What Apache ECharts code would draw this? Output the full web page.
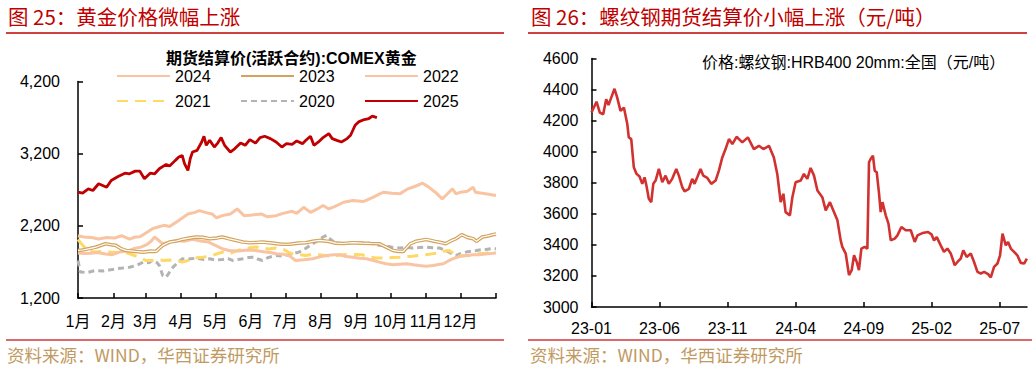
<!DOCTYPE html>
<html><head><meta charset="utf-8">
<script src="https://cdn.jsdelivr.net/npm/echarts@6/dist/echarts.min.js"></script>
<style>html,body{margin:0;padding:0;background:#fff;}#c{width:1032px;height:368px;}</style>
</head><body><div id="c"></div>
<script>
// ---------- data: left chart (COMEX gold, by day of year) ----------
const monthLabels = ['1月','2月','3月','4月','5月','6月','7月','8月','9月','10月','11月','12月'];
const monthDays = [31,28,31,30,31,30,31,31,30,31,30,31];

const gold2020 = [[0,1720],[2,1560],[8,1552],[15,1581],[22,1575],[28,1590],[33,1604],[39,1615],[45,1627],[51,1650],[57,1697],[62,1690],[65,1720],[69,1690],[71,1650],[74,1511],[77,1488],[80,1560],[83,1627],[86,1674],[91,1743],[97,1740],[103,1752],[109,1735],[115,1743],[120,1725],[126,1734],[131,1745],[135,1720],[140,1735],[144,1743],[149,1760],[153,1766],[157,1740],[161,1720],[166,1760],[173,1790],[178,1780],[184,1799],[189,1820],[193,1836],[199,1890],[205,1952],[210,2000],[214,2045],[217,2068],[220,2020],[223,1984],[228,1960],[234,1952],[240,1970],[246,1966],[252,1960],[258,1952],[263,1930],[269,1920],[275,1900],[281,1892],[287,1900],[292,1892],[298,1900],[304,1906],[310,1895],[316,1892],[320,1865],[324,1836],[327,1810],[330,1790],[334,1815],[339,1836],[344,1850],[348,1859],[352,1870],[356,1873],[361,1885],[365,1882]];

const gold2021 = [[0,2010],[3,1952],[6,1900],[8,1850],[15,1836],[22,1845],[28,1836],[35,1830],[40,1836],[45,1813],[50,1785],[54,1766],[59,1720],[65,1720],[70,1730],[75,1720],[80,1725],[86,1720],[91,1697],[96,1720],[100,1743],[105,1760],[109,1766],[115,1780],[121,1810],[126,1836],[132,1813],[138,1850],[144,1882],[150,1895],[155,1906],[160,1900],[166,1880],[173,1892],[180,1870],[183,1840],[187,1813],[193,1800],[199,1790],[205,1805],[211,1799],[216,1790],[219,1780],[226,1790],[232,1799],[240,1805],[248,1799],[254,1770],[260,1753],[265,1755],[269,1753],[275,1760],[281,1766],[287,1775],[292,1780],[298,1790],[304,1799],[310,1815],[315,1827],[320,1850],[324,1859],[328,1820],[333,1790],[338,1785],[342,1790],[347,1800],[350,1813],[356,1820],[362,1836],[365,1830]];

const gold2022 = [[0,1825],[5,1815],[11,1820],[17,1830],[24,1810],[30,1800],[36,1836],[43,1850],[49,1885],[55,1905],[60,1940],[64,1990],[67,2045],[71,1990],[74,1952],[80,1975],[86,1998],[93,1985],[100,2012],[107,1990],[114,1975],[120,1930],[126,1882],[132,1859],[140,1850],[148,1865],[155,1859],[162,1840],[168,1830],[173,1813],[180,1805],[185,1780],[190,1720],[197,1730],[205,1743],[211,1770],[217,1790],[223,1800],[229,1799],[234,1775],[240,1766],[246,1750],[252,1743],[258,1720],[263,1697],[269,1675],[275,1660],[281,1668],[287,1674],[293,1660],[298,1650],[304,1640],[310,1650],[315,1665],[319,1674],[323,1710],[327,1743],[333,1775],[339,1790],[345,1800],[350,1799],[356,1810],[360,1815],[365,1825]];

const gold2023 = [[0,1859],[4,1865],[10,1885],[16,1906],[24,1952],[29,1938],[33,1929],[38,1880],[42,1859],[50,1845],[57,1836],[64,1850],[68,1845],[74,1929],[80,1975],[86,1990],[91,2012],[97,2030],[103,2045],[109,2040],[115,2022],[121,2030],[126,2045],[132,2020],[138,1998],[144,1975],[150,1966],[156,1970],[161,1975],[170,1960],[178,1945],[185,1945],[192,1960],[199,1966],[205,1985],[211,1998],[219,1984],[225,1960],[232,1955],[240,1966],[248,1960],[256,1955],[263,1952],[269,1906],[275,1859],[280,1845],[284,1845],[290,1950],[295,1985],[304,2012],[312,1984],[318,1965],[321,1952],[326,1995],[330,2022],[335,2077],[340,2040],[345,2022],[348,1985],[353,2045],[358,2060],[362,2077],[365,2085]];

const gold2024 = [[0,2063],[5,2045],[12,2039],[18,2017],[25,2039],[32,2030],[38,2063],[45,2017],[50,2045],[54,2049],[60,2109],[65,2161],[70,2184],[75,2207],[80,2190],[86,2254],[92,2318],[96,2365],[102,2387],[106,2411],[111,2387],[117,2365],[121,2309],[126,2341],[133,2365],[139,2434],[145,2341],[152,2350],[160,2365],[165,2327],[173,2341],[179,2373],[187,2401],[191,2373],[197,2457],[203,2387],[209,2434],[214,2481],[219,2434],[224,2467],[232,2527],[240,2550],[249,2536],[258,2597],[263,2640],[267,2666],[274,2652],[281,2643],[288,2713],[294,2745],[301,2791],[306,2740],[312,2666],[318,2574],[322,2634],[327,2713],[330,2643],[334,2666],[340,2680],[345,2735],[347,2666],[353,2652],[360,2634],[365,2620]];

const gold2025 = [[0,2666],[4,2652],[9,2713],[13,2690],[18,2783],[25,2735],[29,2829],[35,2884],[41,2930],[45,2921],[50,2958],[54,2958],[58,2852],[63,2930],[67,2921],[71,2991],[77,3051],[80,3028],[85,3107],[88,3153],[91,3176],[93,3061],[96,2968],[98,3130],[100,3223],[104,3246],[108,3362],[110,3441],[112,3316],[115,3385],[119,3292],[122,3347],[125,3423],[128,3316],[133,3223],[137,3270],[142,3348],[146,3316],[150,3395],[155,3347],[159,3423],[163,3441],[168,3409],[173,3362],[178,3292],[182,3339],[187,3330],[191,3376],[196,3339],[199,3385],[203,3441],[206,3316],[210,3362],[214,3423],[219,3478],[222,3409],[226,3385],[230,3362],[235,3409],[238,3455],[242,3594],[245,3640],[250,3673],[254,3687],[257,3720],[261,3700]];

// ---------- data: right chart (rebar price, months since 2023-01) ----------
const steelTickMonths = [0,5,10,15,20,25,30];
const steelTickLabels = ['23-01','23-06','23-11','24-04','24-09','25-02','25-07'];
const steelPrices = [[0,4252],[0.37,4322],[0.61,4252],[0.86,4241],[1.08,4338],[1.25,4300],[1.45,4348],[1.69,4405],[1.89,4348],[2.13,4263],[2.38,4284],[2.63,4178],[2.74,4092],[2.92,4081],[3.11,3899],[3.31,3857],[3.53,3840],[3.73,3793],[3.90,3835],[4.04,3780],[4.21,3697],[4.39,3675],[4.54,3793],[4.71,3814],[4.95,3889],[5.20,3803],[5.44,3846],[5.68,3793],[5.93,3825],[6.23,3889],[6.42,3846],[6.67,3771],[6.84,3745],[7.15,3760],[7.40,3825],[7.57,3793],[7.77,3835],[8.01,3889],[8.21,3846],[8.51,3831],[8.80,3793],[9.12,3814],[9.36,3878],[9.61,3963],[9.85,4017],[10.10,4081],[10.35,4049],[10.66,4096],[11.08,4060],[11.49,4092],[11.93,4017],[12.30,4038],[12.63,4017],[13.04,4038],[13.40,3963],[13.65,3857],[13.90,3675],[14.10,3729],[14.26,3611],[14.58,3590],[14.76,3707],[15.00,3803],[15.37,3814],[15.61,3857],[15.86,3825],[16.10,3895],[16.35,3846],[16.60,3750],[16.96,3707],[17.21,3622],[17.52,3675],[17.77,3622],[18.07,3558],[18.31,3429],[18.43,3387],[18.68,3344],[18.92,3205],[19.12,3237],[19.29,3333],[19.49,3290],[19.65,3237],[19.83,3376],[20.07,3387],[20.27,3376],[20.39,3932],[20.51,3953],[20.68,3974],[20.81,3878],[20.96,3867],[21.13,3729],[21.25,3611],[21.38,3675],[21.62,3590],[21.82,3537],[21.99,3429],[22.28,3440],[22.48,3461],[22.77,3515],[23.09,3494],[23.46,3494],[23.75,3419],[23.95,3461],[24.32,3476],[24.73,3483],[24.98,3468],[25.17,3429],[25.37,3450],[25.66,3397],[25.90,3355],[26.15,3376],[26.40,3344],[26.69,3269],[26.89,3290],[27.13,3312],[27.32,3365],[27.57,3322],[27.87,3344],[28.11,3290],[28.36,3226],[28.60,3216],[28.85,3226],[29.14,3212],[29.34,3190],[29.58,3258],[29.83,3280],[30.02,3333],[30.20,3472],[30.44,3397],[30.61,3419],[30.81,3376],[31.05,3355],[31.29,3333],[31.54,3284],[31.79,3280],[31.99,3312]];

// ---------- chart ----------
const monthStarts = [];
let acc = 0;
for (const d of monthDays) { monthStarts.push(acc); acc += d; }
const yearLen = acc;

const LAT = "'Liberation Sans', Arial, 'Noto Sans CJK SC', sans-serif";
const CJK = "'Noto Sans CJK SC', sans-serif";
const axisLine = { show: true, lineStyle: { color: '#000', width: 1.5 } };
const axisTick = { show: true, inside: true, length: 5, lineStyle: { color: '#000', width: 1.5 } };
const lbl = { color: '#000', fontSize: 16, fontFamily: LAT };

const chart = echarts.init(document.getElementById('c'), null, { renderer: 'svg', width: 1032, height: 368 });

const goldLine = (name, data, color, width, type, z) => ({
  name, type: 'line', data, xAxisIndex: 0, yAxisIndex: 0, symbol: 'none', silent: true, z,
  lineStyle: { color, width, type }, itemStyle: { color }
});

const legendBase = {
  left: 116, orient: 'horizontal', itemWidth: 53, itemHeight: 16, itemGap: 29.4, padding: 0,
  selectedMode: false, itemStyle: { opacity: 0, borderWidth: 0 },
  textStyle: { color: '#000', fontSize: 16, fontFamily: LAT, lineHeight: 16 }
};

chart.setOption({
  animation: false,
  title: [
    { text: '图 25：黄金价格微幅上涨', left: 8, top: 5, padding: 0,
      textStyle: { color: '#C00000', fontSize: 20.5, fontWeight: 'normal', fontFamily: CJK, lineHeight: 22 } },
    { text: '图 26：螺纹钢期货结算价小幅上涨（元/吨）', left: 531, top: 5, padding: 0,
      textStyle: { color: '#C00000', fontSize: 20.5, fontWeight: 'normal', fontFamily: CJK, lineHeight: 22 } },
    { text: '期货结算价(活跃合约):COMEX黄金', left: 166, top: 50, padding: 0,
      textStyle: { color: '#000', fontSize: 16, fontWeight: 'bold', fontFamily: LAT, lineHeight: 16 } },
    { text: '价格:螺纹钢:HRB400 20mm:全国（元/吨）', left: 702, top: 54, padding: 0,
      textStyle: { color: '#000', fontSize: 16, fontWeight: 'normal', fontFamily: LAT, lineHeight: 16 } },
    { text: '资料来源：WIND，华西证券研究所', left: 7, top: 345, padding: 0,
      textStyle: { color: '#BF9A62', fontSize: 17.5, fontWeight: 'normal', fontFamily: CJK, lineHeight: 18 } },
    { text: '资料来源：WIND，华西证券研究所', left: 530, top: 345, padding: 0,
      textStyle: { color: '#BF9A62', fontSize: 17.5, fontWeight: 'normal', fontFamily: CJK, lineHeight: 18 } }
  ],
  graphic: [
    { type: 'line', shape: { x1: 6, y1: 33, x2: 504, y2: 33 }, style: { stroke: '#C00000', lineWidth: 1.5 }, silent: true },
    { type: 'line', shape: { x1: 528, y1: 33, x2: 1027, y2: 33 }, style: { stroke: '#C00000', lineWidth: 1.5 }, silent: true },
    { type: 'line', shape: { x1: 6, y1: 340, x2: 504, y2: 340 }, style: { stroke: '#D0393C', lineWidth: 1.5 }, silent: true },
    { type: 'line', shape: { x1: 528, y1: 340, x2: 1032, y2: 340 }, style: { stroke: '#D0393C', lineWidth: 1.5 }, silent: true }
  ],
  legend: [
    Object.assign({}, legendBase, { data: ['2024', '2023', '2022'], top: 68 }),
    Object.assign({}, legendBase, { data: ['2021', '2020', '2025'], top: 93 })
  ],
  grid: [
    { left: 78, top: 81.5, width: 418, height: 216.5, containLabel: false },
    { left: 591.5, top: 58.5, width: 435.5, height: 248.5, containLabel: false }
  ],
  xAxis: [
    { type: 'value', gridIndex: 0, min: 0, max: yearLen,
      axisLine, splitLine: { show: false },
      axisTick: Object.assign({}, axisTick, { customValues: monthStarts.concat([yearLen]) }),
      axisLabel: Object.assign({}, lbl, { margin: 15, customValues: monthStarts,
        formatter: v => monthLabels[monthStarts.indexOf(v)] || '' }) },
    { type: 'value', gridIndex: 1, min: 0, max: 32,
      axisLine, splitLine: { show: false },
      axisTick: Object.assign({}, axisTick, { customValues: steelTickMonths }),
      axisLabel: Object.assign({}, lbl, { margin: 13, customValues: steelTickMonths,
        formatter: v => steelTickLabels[steelTickMonths.indexOf(v)] || '' }) }
  ],
  yAxis: [
    { type: 'value', gridIndex: 0, min: 1200, max: 4200, interval: 1000,
      axisLine, axisTick, splitLine: { show: false },
      axisLabel: Object.assign({}, lbl, { margin: 18 }) },
    { type: 'value', gridIndex: 1, min: 3000, max: 4600, interval: 200,
      axisLine, axisTick, splitLine: { show: false },
      axisLabel: Object.assign({}, lbl, { margin: 13, formatter: v => String(v) }) }
  ],
  series: [
    goldLine('2020', gold2020, '#B3B3B3', 3, [6, 4], 2),
    goldLine('2021', gold2021, '#FFD966', 3, [11, 7], 3),
    goldLine('2022', gold2022, '#F8C4A2', 3, 'solid', 4),
    goldLine('2023', gold2023, '#D2A35C', 3.6, 'solid', 5),
    { name: '2023 ', type: 'line', data: gold2023, xAxisIndex: 0, yAxisIndex: 0, symbol: 'none', silent: true, z: 6,
      lineStyle: { color: '#FFFFFF', width: 1.2 }, itemStyle: { color: '#FFFFFF' } },
    goldLine('2024', gold2024, '#F8C4A2', 3, 'solid', 7),
    goldLine('2025', gold2025, '#C00000', 2.8, 'solid', 8),
    { name: '螺纹钢', type: 'line', data: steelPrices, xAxisIndex: 1, yAxisIndex: 1, symbol: 'none', silent: true, z: 8,
      lineStyle: { color: '#D2322F', width: 2.6 }, itemStyle: { color: '#D2322F' } }
  ]
});
</script>
</body></html>
